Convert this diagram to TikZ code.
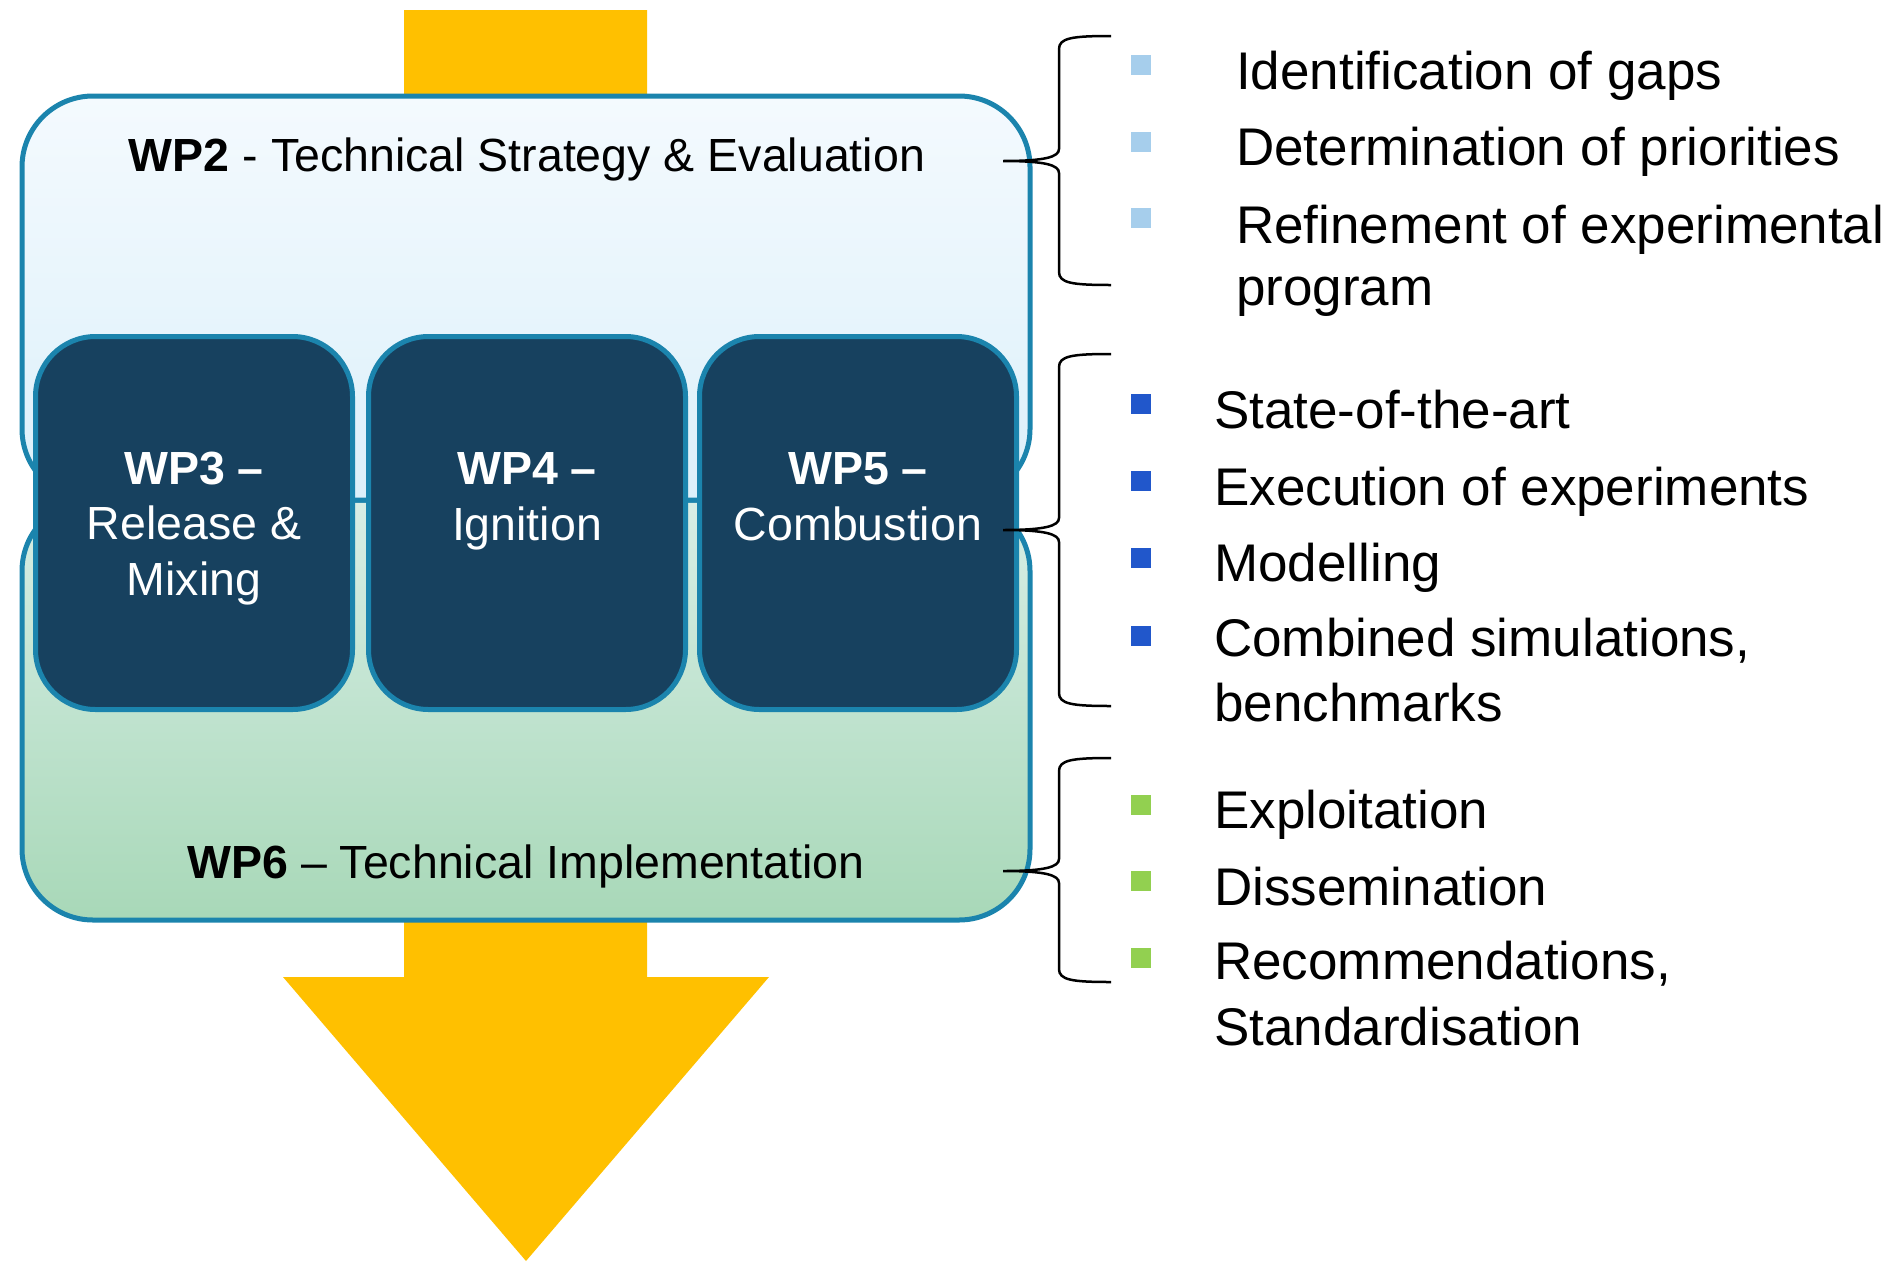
\documentclass[tikz,border=0pt]{standalone}
\usepackage{fontspec}
\setmainfont{Liberation Sans}
\definecolor{arrowc}{HTML}{FFC000}
\definecolor{edgec}{HTML}{1B84AD}
\definecolor{navy}{HTML}{17415F}
\definecolor{wptop}{HTML}{F4FAFE}
\definecolor{wpbot}{HTML}{DCF0FA}
\definecolor{gtop}{HTML}{D8EEE6}
\definecolor{gbot}{HTML}{A8D8B8}
\definecolor{bulA}{HTML}{A6CEEC}
\definecolor{bulB}{HTML}{2157CB}
\definecolor{bulC}{HTML}{92D050}
\newcommand\wpbrace[3]{%
  \draw[bracestyle] (1111,#1) .. controls (1072,#1) and (1059,#1+2) .. (1059,#1+13)
    -- (1059,#2-12) .. controls (1059,#2-4) and (1045,#2) .. (1003,#2)
    .. controls (1045,#2) and (1059,#2+4) .. (1059,#2+12)
    -- (1059,#3-13) .. controls (1059,#3-2) and (1072,#3) .. (1111,#3);}
\begin{document}
\begin{tikzpicture}[x=1pt,y=-1pt,
  bigbox/.style={draw=edgec, line width=5pt, rounded corners=71pt, minimum width=1008pt, inner sep=0pt},
  wpbox/.style={draw=edgec, fill=navy, line width=5pt, rounded corners=60pt, minimum width=317pt, minimum height=373pt, inner sep=0pt},
  wptxt/.style={text=white, align=center, font=\fontsize{46.5}{55.5}\selectfont, anchor=base, inner sep=0pt},
  titletxt/.style={font=\fontsize{46.5}{55}\selectfont, anchor=base, inner sep=0pt},
  itemtxt/.style={font=\fontsize{53}{64}\selectfont, anchor=base west, align=left, inner sep=0pt},
  sq/.style={minimum size=20pt, inner sep=0pt, draw=none},
  bracestyle/.style={line width=2.5pt, black}]
\useasboundingbox (0,0) rectangle (1898,1261);
% arrow
\fill[arrowc] (404,10) -- (647,10) -- (647,977) -- (769,977) -- (526,1261) -- (283,977) -- (404,977) -- cycle;
% big boxes
\node[bigbox, minimum height=420pt, top color=gtop, bottom color=gbot] (wp6) at (526,710) {};
\node[bigbox, minimum height=404pt, top color=wptop, bottom color=wpbot] (wp2) at (526,298) {};
% WP3-5
\node[wpbox] (wp3) at (194,523) {};
\node[wpbox] (wp4) at (527,523) {};
\node[wpbox] (wp5) at (858,523) {};
\node[wptxt] (t3) at (194,595) {\textbf{WP3 –}\\Release \&\\Mixing};
\node[wptxt] (t4) at (527,540) {\textbf{WP4 –}\\Ignition};
\node[wptxt] (t5) at (858,540) {\textbf{WP5 –}\\Combustion};
\node[titletxt] (t2) at (527,171) {\textbf{WP2} - Technical Strategy \& Evaluation};
\node[titletxt] (t6) at (526,878) {\textbf{WP6} – Technical Implementation};
% braces
\wpbrace{36}{161}{285}
\wpbrace{354}{530}{706}
\wpbrace{758}{871}{982}
% list 1
\node[sq, fill=bulA] (s11) at (1141,65) {};
\node[sq, fill=bulA] (s12) at (1141,142) {};
\node[sq, fill=bulA] (s13) at (1141,218) {};
\node[itemtxt] (i11) at (1236,89) {Identification of gaps};
\node[itemtxt] (i12) at (1236,165) {Determination of priorities};
\node[itemtxt, font=\fontsize{53}{62}\selectfont] (i13) at (1236,305) {Refinement of experimental\\program};
% list 2
\node[sq, fill=bulB] (s21) at (1141,404) {};
\node[sq, fill=bulB] (s22) at (1141,481) {};
\node[sq, fill=bulB] (s23) at (1141,558) {};
\node[sq, fill=bulB] (s24) at (1141,636) {};
\node[itemtxt] (i21) at (1214,428) {State-of-the-art};
\node[itemtxt] (i22) at (1214,505) {Execution of experiments};
\node[itemtxt] (i23) at (1214,581) {Modelling};
\node[itemtxt, font=\fontsize{53}{65}\selectfont] (i24) at (1214,721) {Combined simulations,\\benchmarks};
% list 3
\node[sq, fill=bulC] (s31) at (1141,805) {};
\node[sq, fill=bulC] (s32) at (1141,881) {};
\node[sq, fill=bulC] (s33) at (1141,958) {};
\node[itemtxt] (i31) at (1214,828) {Exploitation};
\node[itemtxt] (i32) at (1214,905) {Dissemination};
\node[itemtxt, font=\fontsize{53}{66}\selectfont] (i33) at (1214,1045) {Recommendations,\\Standardisation};
\end{tikzpicture}
\end{document}
